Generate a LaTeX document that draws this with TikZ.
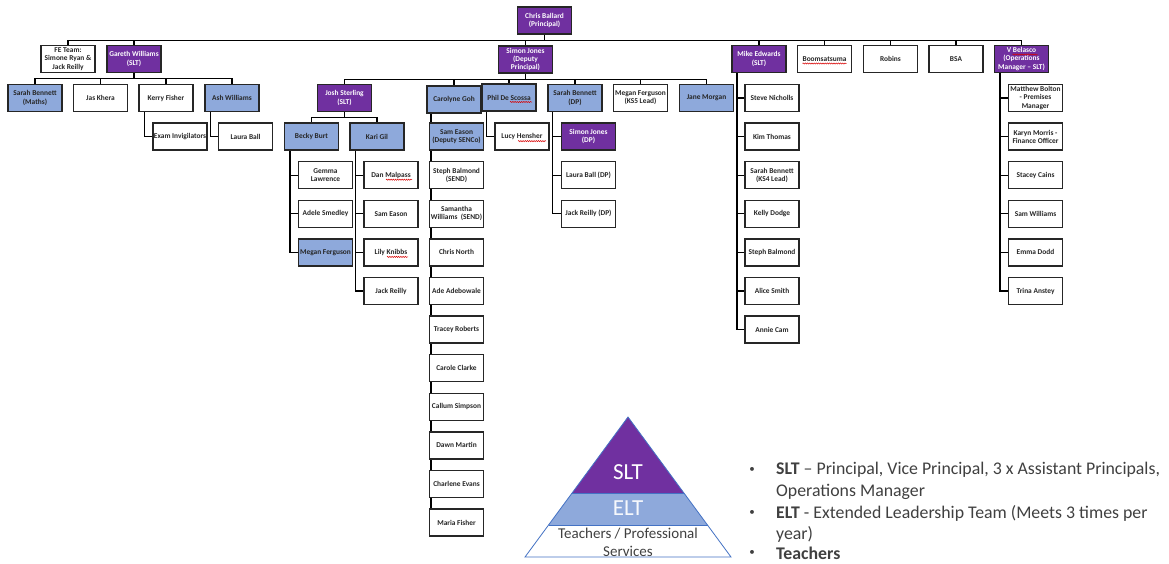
\documentclass[tikz,border=0pt]{standalone}
\usepackage{fontspec}
\setmainfont{Carlito}
\usetikzlibrary{calc,decorations.pathmorphing}
\definecolor{sltc}{HTML}{7030A0}
\definecolor{eltc}{HTML}{8EA9DB}
\definecolor{pyedge}{HTML}{4472C4}
\definecolor{txtc}{HTML}{404040}
\pgfdeclarelayer{bg}
\pgfsetlayers{bg,main}
\begin{document}
\begin{tikzpicture}[x=1pt,y=-1pt,
  box/.style={draw=black!85, line width=1.3pt, minimum width=54pt, minimum height=27pt,
    inner sep=0.5pt, align=center, font=\fontsize{7.4}{8.2}\selectfont\bfseries, text=black!85},
  wbox/.style={box, fill=white},
  bbox/.style={box, fill=eltc},
  pbox/.style={box, fill=sltc, text=white},
  conn/.style={draw=black, line width=1.3pt},
  spell/.style={draw=red!85!black, line width=0.5pt, decorate, decoration={snake, segment length=2.2pt, amplitude=0.6pt}},
  bul/.style={anchor=west, inner sep=0pt, text=txtc, font=\fontsize{17.8}{20}\selectfont},
  dot/.style={inner sep=0pt, text=txtc, font=\fontsize{11}{12}\selectfont},
]
\useasboundingbox (0,0) rectangle (1169,563);
\begin{pgfonlayer}{bg}
\fill[white] (0,0) rectangle (1169,563);
\end{pgfonlayer}

% ---------- top level
\node[pbox] (cb) at (544.5,20.5) {Chris Ballard\\(Principal)};
\node[wbox] (fe) at (68,59) {FE Team:\\Simone Ryan \&\\Jack Reilly};
\node[pbox] (gw) at (134,59) {Gareth Williams\\(SLT)};
\node[pbox] (sj) at (525.5,59.5) {Simon Jones\\(Deputy\\Principal)};
\node[pbox] (me) at (759,59) {Mike Edwards\\(SLT)};
\node[wbox] (bo) at (824.5,59) {Boomsatsuma};
\node[wbox] (ro) at (890.5,59) {Robins};
\node[wbox] (bsa) at (956,59) {BSA};
\node[pbox] (vb) at (1021.5,59) {V Belasco\\(Operations\\Manager -- SLT)};

% ---------- row 0
\node[bbox] (sbm) at (35,98) {Sarah Bennett\\(Maths)};
\node[wbox] (jk) at (100.5,98) {Jas Khera};
\node[wbox] (kf) at (166,98) {Kerry Fisher};
\node[bbox] (aw) at (232,98) {Ash Williams};
\node[pbox] (js) at (344.5,98) {Josh Sterling\\(SLT)};
\node[bbox] (cg) at (454,99.5) {Carolyne Goh};
\node[bbox] (pd) at (509,97.5) {Phil De Scossa};
\node[bbox] (sbd) at (575,98) {Sarah Bennett\\(DP)};
\node[wbox] (mf5) at (640.5,98) {Megan Ferguson\\(KS5 Lead)};
\node[bbox] (jm) at (706.5,98) {Jane Morgan};

% ---------- row 1
\node[wbox] (ei) at (180,136.6) {Exam Invigilators};
\node[wbox] (lb) at (245.5,136.6) {Laura Ball};
\node[bbox] (bb) at (311.5,136.6) {Becky Burt};
\node[bbox] (kg) at (377,136.6) {Kari Gil};
\node[bbox] (cg1) at (456.5,136.6) {Sam Eason\\(Deputy SENCo)};
\node[wbox] (lh) at (522,136.6) {Lucy Hensher};
\node[pbox] (sd1) at (588.5,136.6) {Simon Jones\\(DP)};

% ---------- columns
\foreach \t [count=\i from 2] in {{Gemma\\Lawrence},{Adele Smedley}}
  \node[wbox] (bb\i) at (325.5,98+38.6*\i) {\t};
\node[bbox] (bb4) at (325.5,98+38.6*4) {Megan Ferguson};

\foreach \t [count=\i from 2] in {{Dan Malpass},{Sam Eason},{Lily Knibbs},{Jack Reilly}}
  \node[wbox] (kg\i) at (391,98+38.6*\i) {\t};

\foreach \t [count=\i from 2] in {{Steph Balmond\\(SEND)},{Samantha\\Williams\ \ (SEND)},{Chris North},{Ade Adebowale},{Tracey Roberts},{Carole Clarke},{Callum Simpson},{Dawn Martin},{Charlene Evans},{Maria Fisher}}
  \node[wbox] (cg\i) at (456.5,98+38.6*\i) {\t};

\foreach \t [count=\i from 2] in {{Laura Ball (DP)},{Jack Reilly (DP)}}
  \node[wbox] (sd\i) at (588.5,98+38.6*\i) {\t};

\foreach \t [count=\i from 0] in {{Steve Nicholls},{Kim Thomas},{Sarah Bennett\\(KS4 Lead)},{Kelly Dodge},{Steph Balmond},{Alice Smith},{Annie Cam}}
  \node[wbox] (me\i) at (772,98+38.6*\i) {\t};

\foreach \t [count=\i from 0] in {{Matthew Bolton\\- Premises\\Manager},{Karyn Morris -\\Finance Officer},{Stacey Cains},{Sam Williams},{Emma Dodd},{Trina Anstey}}
  \node[wbox] (vb\i) at (1035.5,98+38.6*\i) {\t};

% ---------- connectors (behind boxes)
\begin{pgfonlayer}{bg}
\draw[conn] (cb.south) -- ++(0,5.5) coordinate (top);
\draw[conn] (fe.north) |- (vb.north |- top) -- (vb.north);
\foreach \n in {gw,sj,me,bo,ro,bsa} \draw[conn] (\n.north) -- (\n.north |- top);

% Gareth
\draw[conn] (gw.south) -- ++(0,5.5) coordinate (gbar);
\draw[conn] (sbm.north) |- (aw.north |- gbar) -- (aw.north);
\foreach \n in {jk,kf} \draw[conn] (\n.north) -- (\n.north |- gbar);
\draw[conn] ([xshift=6pt]kf.south west) |- (ei.west);
\draw[conn] ([xshift=6pt]aw.south west) |- (lb.west);

% Simon Jones
\draw[conn] (sj.south) -- ++(0,5.5) coordinate (sbar);
\draw[conn] (js.north) |- (jm.north |- sbar) -- (jm.north);
\foreach \n in {cg,pd,sbd,mf5} \draw[conn] (\n.north) -- (\n.north |- sbar);

% Josh
\draw[conn] (js.south) -- ++(0,5.5) coordinate (jbar);
\draw[conn] (bb.north) |- (kg.north |- jbar) -- (kg.north);

% Becky
\coordinate (bbL) at ([xshift=6pt]bb.south west);
\draw[conn] (bbL) |- (bb4.west);
\foreach \i in {2,3} \draw[conn] (bb\i.west) -- (bb\i.west -| bbL);

% Kari
\coordinate (kgL) at ([xshift=6pt]kg.south west);
\draw[conn] (kgL) |- (kg5.west);
\foreach \i in {2,3,4} \draw[conn] (kg\i.west) -- (kg\i.west -| kgL);

% Carolyne
\coordinate (cgL) at ([xshift=4.5pt]cg.south west);
\draw[conn] (cgL) -- (cgL |- cg11.north);

% Phil
\draw[conn] ([xshift=5pt]pd.south west) |- (lh.west);

% Sarah Bennett DP
\coordinate (sdL) at ([xshift=5pt]sbd.south west);
\draw[conn] (sdL) |- (sd3.west);
\foreach \i in {1,2} \draw[conn] (sd\i.west) -- (sd\i.west -| sdL);

% Mike
\coordinate (meL) at ([xshift=5.5pt]me.south west);
\draw[conn] (meL) |- (me6.west);
\foreach \i in {0,...,5} \draw[conn] (me\i.west) -- (me\i.west -| meL);

% V Belasco
\coordinate (vbL) at ([xshift=6pt]vb.south west);
\draw[conn] (vbL) |- (vb5.west);
\foreach \i in {0,...,4} \draw[conn] (vb\i.west) -- (vb\i.west -| vbL);
\end{pgfonlayer}

% ---------- spelling marks
\draw[spell] ($(bo.center)+(-22,4.5)$) -- ++(44,0);
\draw[spell] ($(pd.center)+(1,4.5)$) -- ++(22,0);
\draw[spell] ($(lh.center)+(-4,4.5)$) -- ++(28,0);
\draw[spell] ($(kg2.center)+(-5,4.5)$) -- ++(26,0);
\draw[spell] ($(kg4.center)+(-4,4.5)$) -- ++(21,0);
\draw[spell] ($(vb.center)+(-9,-4.5)$) -- ++(25,0);

% ---------- pyramid
\fill[sltc] (628,417) -- (572.1,493) -- (683.9,493) -- cycle;
\fill[eltc] (572.1,493) -- (548.5,525) -- (707.5,525) -- (683.9,493) -- cycle;
\draw[pyedge, line width=0.8pt] (628,417) -- (525,557) -- (731,557) -- cycle;
\draw[pyedge, line width=0.8pt] (572.1,493) -- (683.9,493);
\draw[pyedge, line width=0.8pt] (548.5,525) -- (707.5,525);
\node[text=white, font=\fontsize{23}{26}\selectfont] (pslt) at (628,472) {SLT};
\node[text=white!92!eltc, font=\fontsize{23}{26}\selectfont] (pelt) at (628,508) {ELT};
\node[text=txtc, font=\fontsize{15}{18}\selectfont] (ptch1) at (628,533.5) {Teachers / Professional};
\node[text=txtc, font=\fontsize{15}{18}\selectfont] (ptch2) at (628,551) {Services};

% ---------- bullets
\foreach \y in {470,513,553} \node[dot] at (752,\y) {•};
\node[bul] (b1) at (776,470) {\textbf{SLT} – Principal, Vice Principal, 3 x Assistant Principals,};
\node[bul] (b2) at (776,491.5) {Operations Manager};
\node[bul] (b3) at (776,513) {\textbf{ELT} - Extended Leadership Team (Meets 3 times per};
\node[bul] (b4) at (776,534.5) {year)};
\node[bul] (b5) at (776,553) {\textbf{Teachers}};
\end{tikzpicture}
\end{document}
